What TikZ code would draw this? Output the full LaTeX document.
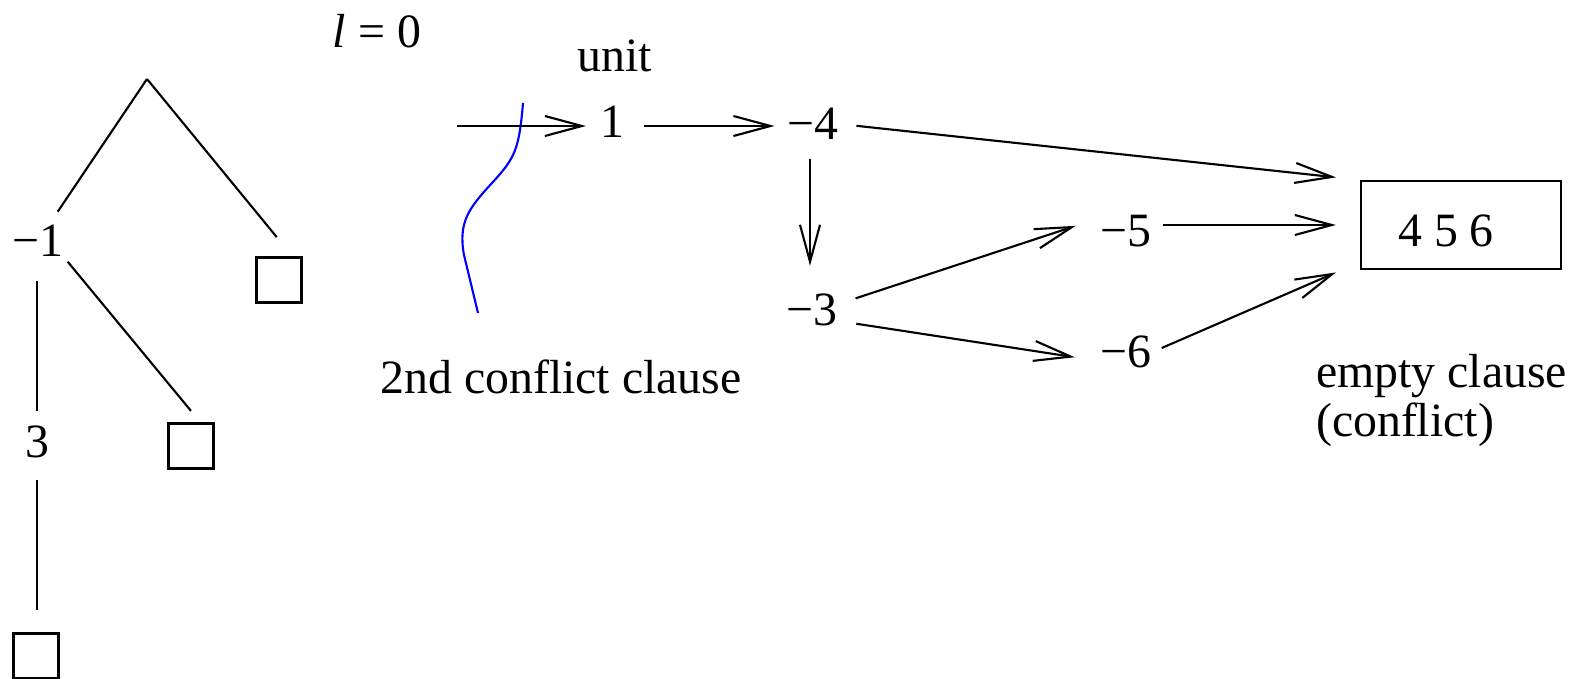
\documentclass[tikz,border=0pt]{standalone}
\usepackage{fontspec}
\setmainfont{Liberation Serif}
\usetikzlibrary{arrows.meta}

\begin{document}
\begin{tikzpicture}[
        x=0.01cm, y=-0.01cm,
        line width=0.6pt,
        font=\fontsize{13.6pt}{14pt}\selectfont,
        lit/.style={inner sep=0pt},
        leaf/.style={draw, inner sep=0pt, minimum size=0.45cm},
        arr/.style={-{Straight Barb[length=0.37cm,width=0.2cm]}}
    ]
    \useasboundingbox (0,0) rectangle (1579,679);

    \coordinate (root) at (147,79);
    \node[lit] (m1) at (38,241) {−1};
    \node[lit] (m3) at (37,442) {3};
    \node[leaf] (sqa) at (279,280) {};
    \node[leaf] (sqb) at (191,446) {};
    \node[leaf] (sqc) at (36,656) {};

    \draw[shorten >=0.15cm] (root) -- (m1);
    \draw[shorten >=0.25cm] (root) -- (sqa.60);
    \draw[shorten <=0.05cm, shorten >=0.15cm] (m1.south east) -- (sqb.68);
    \draw[shorten <=0.23cm, shorten >=0.14cm] (m3 |- m1.south) -- (m3.north);
    \draw[shorten <=0.21cm, shorten >=0.22cm] (m3.south) -- (m3.south |- sqc.north);

    \node[lit] (lvl) at (377,31) {\textit{l} = 0};
    \node[lit] (unit) at (615,56) {unit};
    \coordinate (in) at (457,126);
    \node[lit] (u1) at (612,122) {1};
    \node[lit] (u4) at (813,124) {−4};
    \node[lit] (u3) at (812,310) {−3};
    \node[lit] (u5) at (1126,231) {−5};
    \node[lit] (u6) at (1126,352) {−6};
    \node[draw, inner sep=0pt, minimum width=2cm, minimum height=0.88cm,
        text height=0.44cm] (conf) at (1461,225) {4 5 6\kern0.3cm};
    \node[lit, anchor=base] (cut) at (561,393) {2nd conflict clause};
    \node[lit, align=left, anchor=north west] (elab) at (1315,353) {empty clause\\(conflict)};

    \draw[blue] (523,103) .. controls (519,150) and (515,158) .. (492,183)
        .. controls (469,208) and (458,222) .. (464,255) -- (478,313);

    \draw[arr, shorten >=0.13cm] (in) -- (in -| u1.west);
    \draw[arr, shorten <=0.19cm, shorten >=0.12cm] (in -| u1.east) -- (in -| u4.west);
    \draw[arr, shorten <=0.18cm, shorten >=0.27cm] ([xshift=-0.03cm]u4.south) -- ([xshift=-0.03cm]u4.south |- u3.north);
    \draw[arr, shorten <=0.17cm, shorten >=0.24cm] (u4.east) -- (conf.north west);
    \draw[arr, shorten <=0.18cm, shorten >=0.25cm] ([yshift=0.06cm]u3.east) -- ([yshift=0.13cm]u5.west);
    \draw[arr, shorten <=0.18cm, shorten >=0.25cm] ([yshift=-0.11cm]u3.east) -- ([yshift=-0.09cm]u6.west);
    \draw[arr, shorten <=0.1cm, shorten >=0.24cm] (u5.east |- conf.west) -- (conf.west);
    \draw[arr, shorten <=0.1cm, shorten >=0.26cm] (u6.east) -- ([yshift=0.08cm]conf.south west);
\end{tikzpicture}
\end{document}
